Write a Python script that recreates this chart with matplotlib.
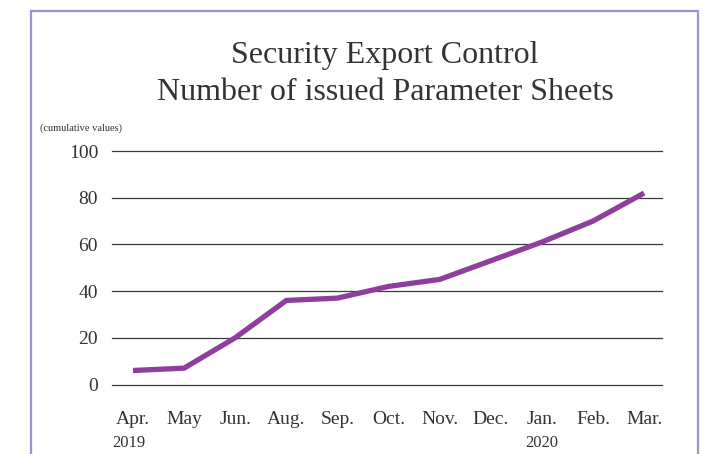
import matplotlib.pyplot as plt
from matplotlib.patches import Rectangle

# data
months = ["Apr.", "May", "Jun.", "Aug.", "Sep.", "Oct.", "Nov.", "Dec.", "Jan.", "Feb.", "Mar."]
years = {0: "2019", 8: "2020"}
sheets = [6, 7, 20, 36, 37, 42, 45, 53, 61, 70, 82]
y_ticks = [0, 20, 40, 60, 80, 100]

serif = "Liberation Serif"
text_col = "#333333"
line_col = "#8e3f9b"

fig = plt.figure(figsize=(7.09, 4.54), dpi=100)
ax = fig.add_axes([112 / 709, 1 - 384.5 / 454, 550 / 709, (384.5 - 151) / 454])

# lavender frame round the whole chart
fig.patches.append(Rectangle((31 / 709, -0.1), (698 - 31) / 709, 1.1 - 11 / 454,
                             transform=fig.transFigure, fill=False,
                             edgecolor="#9d94cf", linewidth=1.6))

x = list(range(len(months)))
for t in y_ticks:
    ax.axhline(t, color="#3a3a3a", linewidth=0.9, zorder=1, clip_on=False)
ax.plot(x, sheets, color=line_col, linewidth=3.8, solid_capstyle="butt",
        solid_joinstyle="miter", zorder=3)

ax.set_xlim(-0.41, 10.35)
ax.set_ylim(0, 100)
for s in ax.spines.values():
    s.set_visible(False)
ax.tick_params(length=0)
ax.set_yticks(y_ticks)
ax.set_yticklabels([str(t) for t in y_ticks], fontfamily=serif, fontsize=14, color=text_col)
ax.tick_params(axis="y", pad=10)
ax.set_xticks(x)
ax.set_xticklabels(months, fontfamily=serif, fontsize=14, color=text_col)
ax.tick_params(axis="x", pad=19)

for i, yr in years.items():
    ax.annotate(yr, xy=(i, 0), xycoords=("data", "axes fraction"),
                xytext=(-3 if i == 0 else 0, -42), textcoords="offset points",
                ha="center", va="center", fontfamily=serif, fontsize=12, color=text_col)

fig.text(40 / 709, 1 - 128 / 454, "(cumulative values)", fontfamily=serif,
         fontsize=7.5, color=text_col, ha="left", va="center")
fig.text(385 / 709, 1 - 55 / 454, "Security Export Control", fontfamily=serif,
         fontsize=23, color=text_col, ha="center", va="center")
fig.text(385 / 709, 1 - 93 / 454, "Number of issued Parameter Sheets", fontfamily=serif,
         fontsize=23, color=text_col, ha="center", va="center")

fig.savefig("out.png", dpi=100)
